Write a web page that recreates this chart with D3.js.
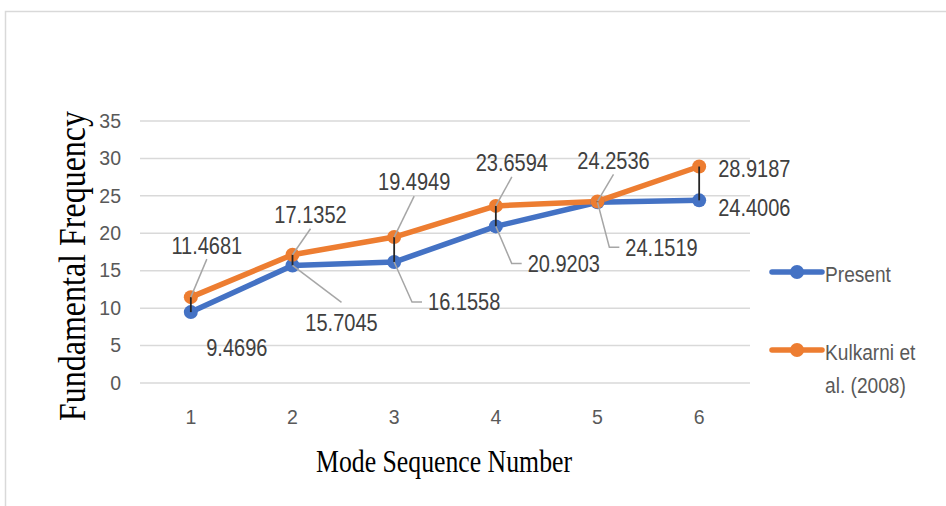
<!DOCTYPE html>
<html>
<head>
<meta charset="utf-8">
<script src="https://cdn.jsdelivr.net/npm/d3@7"></script>
<style>
  html, body { margin: 0; padding: 0; background: #fff; }
  svg { display: block; }
</style>
</head>
<body>
<svg id="chart" width="946" height="506"></svg>
<script>
// ---------------- data ----------------
const categories = ["1", "2", "3", "4", "5", "6"];
const presentValues = [9.4696, 15.7045, 16.1558, 20.9203, 24.1519, 24.4006];
const kulkarniValues = [11.4681, 17.1352, 19.4949, 23.6594, 24.2536, 28.9187];
const yTicks = [0, 5, 10, 15, 20, 25, 30, 35];
const seriesNames = ["Present", "Kulkarni et al. (2008)"];

// ---------------- layout / style ----------------
const plot = { left: 140, right: 750, top: 121, bottom: 383 };
const colors = ["#4472C4", "#ED7D31"];
const sansFont = "'Liberation Sans', Arial, sans-serif";
const serif = "'Liberation Serif', 'Times New Roman', serif";
const narrow = 0.87; // horizontal squeeze to mimic a condensed face

// data-label placement (pixel offsets from the point) and leader styles
const presentLabelPos = [[46, 36, "middle"], [49, 57, "middle"], [70, 40, "middle"], [68, 37, "middle"], [64, 45, "middle"], [19, 7, "start"]];
const kulkarniLabelPos = [[16, -52, "middle"], [18, -40, "middle"], [20, -55, "middle"], [16, -43, "middle"], [16, -41, "middle"], [19, 2, "start"]];
const presentLeader = ["none", "straight-down", "elbow", "elbow", "elbow", "none"];
const kulkarniLeader = ["straight-up", "straight-up", "straight-up", "straight-up", "straight-up", "none"];

const svg = d3.select("#chart");

// chart area border
svg.append("rect")
  .attr("x", 5.5).attr("y", 11.5).attr("width", 1000).attr("height", 600)
  .attr("fill", "#fff").attr("stroke", "#D9D9D9").attr("stroke-width", 1.5);

const x = d3.scaleBand().domain(categories).range([plot.left, plot.right]);
const y = d3.scaleLinear().domain([0, 35]).range([plot.bottom, plot.top]);
const cx = c => x(c) + x.bandwidth() / 2;

// gridlines
svg.append("g").selectAll("line").data(yTicks).join("line")
  .attr("x1", plot.left).attr("x2", plot.right)
  .attr("y1", d => y(d)).attr("y2", d => y(d))
  .attr("stroke", "#D9D9D9").attr("stroke-width", 1.5);

// y axis tick labels via d3 axis
const yAxis = svg.append("g")
  .attr("transform", `translate(${plot.left - 19},0)`)
  .call(d3.axisLeft(y).tickValues(yTicks).tickSize(0).tickPadding(0));
yAxis.select(".domain").remove();
yAxis.selectAll("text")
  .attr("fill", "#595959").style("font-family", sansFont).style("font-size", "19.5px");

// x axis tick labels
const xAxis = svg.append("g")
  .attr("transform", `translate(0,${plot.bottom + 27})`)
  .call(d3.axisBottom(x).tickSize(0).tickPadding(0));
xAxis.select(".domain").remove();
xAxis.selectAll("text")
  .attr("fill", "#595959").style("font-family", sansFont).style("font-size", "19.5px");

// axis titles
svg.append("text")
  .attr("transform", "translate(85,266) rotate(-90) scale(1,1.18)")
  .attr("text-anchor", "middle")
  .style("font-family", serif).style("font-size", "32px").attr("fill", "#000")
  .text("Fundamental Frequency");
svg.append("text")
  .attr("transform", "translate(444,472) scale(0.92,1.12)")
  .attr("text-anchor", "middle")
  .style("font-family", serif).style("font-size", "28px").attr("fill", "#000")
  .text("Mode Sequence Number");

// series lines
const series = [presentValues, kulkarniValues];
const line = d3.line().x((d, i) => cx(categories[i])).y(d => y(d));
series.forEach((vals, s) => {
  svg.append("path").datum(vals)
    .attr("d", line).attr("fill", "none")
    .attr("stroke", colors[s]).attr("stroke-width", 5.5)
    .attr("stroke-linejoin", "round").attr("stroke-linecap", "round");
});

// markers
series.forEach((vals, s) => {
  svg.append("g").selectAll("circle").data(vals).join("circle")
    .attr("cx", (d, i) => cx(categories[i])).attr("cy", d => y(d))
    .attr("r", 7).attr("fill", colors[s]);
});

// high-low lines
svg.append("g").selectAll("line").data(categories).join("line")
  .attr("x1", c => cx(c)).attr("x2", c => cx(c))
  .attr("y1", (c, i) => y(Math.max(presentValues[i], kulkarniValues[i])))
  .attr("y2", (c, i) => y(Math.min(presentValues[i], kulkarniValues[i])))
  .attr("stroke", "#262626").attr("stroke-width", 1.8);

// data labels + leader lines
const leaderG = svg.append("g");
const labelG = svg.append("g");
function drawLabels(vals, pos, leaders) {
  vals.forEach((v, i) => {
    const px = cx(categories[i]), py = y(v);
    const lx = px + pos[i][0], ly = py + pos[i][1];
    const t = labelG.append("text")
      .attr("transform", `translate(${lx},${ly}) scale(${narrow},1.04)`)
      .attr("dy", "0.35em")
      .attr("text-anchor", pos[i][2])
      .style("font-family", sansFont).style("font-size", "23px")
      .attr("fill", "#404040")
      .text(String(v));
    const w = t.node().getComputedTextLength() * narrow;
    const left = pos[i][2] === "middle" ? lx - w / 2 : lx;
    let pts = null;
    if (leaders[i] === "straight-up") pts = [[lx, ly + 14], [px, py]];
    else if (leaders[i] === "straight-down") pts = [[lx, ly - 20], [px, py]];
    else if (leaders[i] === "elbow") pts = [[px, py], [left - 16, ly], [left - 6, ly]];
    if (pts) {
      leaderG.append("path")
        .attr("d", d3.line()(pts)).attr("fill", "none")
        .attr("stroke", "#A6A6A6").attr("stroke-width", 1.5);
    }
  });
}
drawLabels(presentValues, presentLabelPos, presentLeader);
drawLabels(kulkarniValues, kulkarniLabelPos, kulkarniLeader);

// legend
const legendRows = [{ y: 272, lines: ["Present"] }, { y: 350, lines: ["Kulkarni et", "al. (2008)"] }];
legendRows.forEach((r, s) => {
  const g = svg.append("g");
  g.append("line").attr("x1", 772).attr("x2", 822).attr("y1", r.y).attr("y2", r.y)
    .attr("stroke", colors[s]).attr("stroke-width", 5.5).attr("stroke-linecap", "round");
  g.append("circle").attr("cx", 797).attr("cy", r.y).attr("r", 7).attr("fill", colors[s]);
  r.lines.forEach((ln, k) => {
    g.append("text")
      .attr("transform", `translate(825,${r.y + 2 + k * 33}) scale(${narrow},1.04)`)
      .attr("dy", "0.35em")
      .style("font-family", sansFont).style("font-size", "22px")
      .attr("fill", "#595959").text(ln);
  });
});
</script>
</body>
</html>
